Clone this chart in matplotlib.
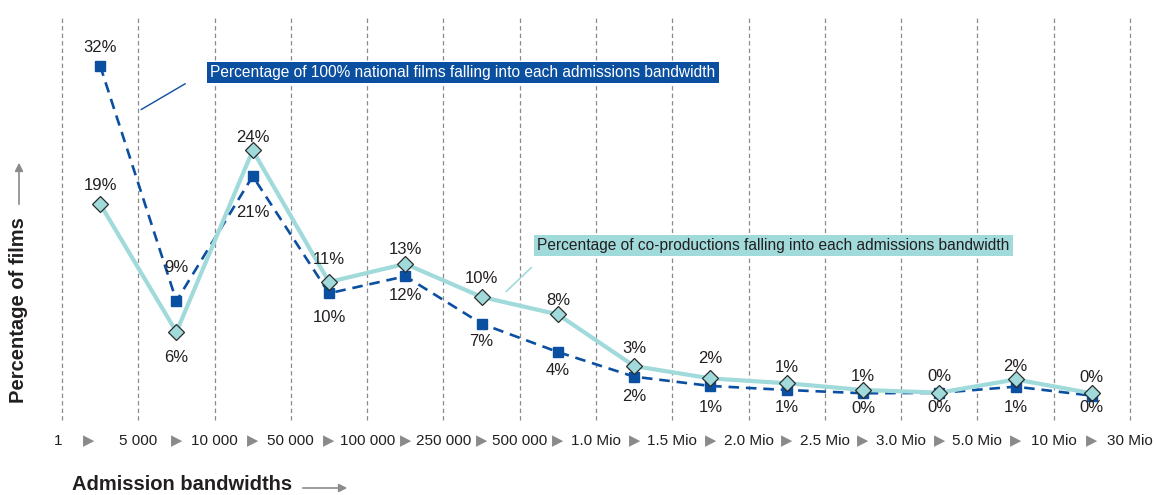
import numpy as np
import matplotlib
matplotlib.use('Agg')
import matplotlib.pyplot as plt
from matplotlib.transforms import blended_transform_factory

plt.rcParams['font.family'] = ['Liberation Sans', 'DejaVu Sans']

# admission bandwidth boundaries (tick labels) and the 14 bands between them
bounds = ['1', '5 000', '10 000', '50 000', '100 000', '250 000', '500 000',
          '1.0 Mio', '1.5 Mio', '2.0 Mio', '2.5 Mio', '3.0 Mio', '5.0 Mio',
          '10 Mio', '30 Mio']

# share of films per band, in %
national = [32.0, 9.2, 21.3, 9.95, 11.6, 7.0, 4.26, 1.87, 0.97, 0.58, 0.26, 0.3, 0.9, 0.03]
coprod = [18.6, 6.2, 23.8, 11.05, 12.8, 9.6, 7.9, 2.9, 1.7, 1.23, 0.58, 0.32, 1.6, 0.26]

# label offsets in pixels (+ above, - below the marker)
nat_off = [18, 34, -36, -24, -19, -18, -18, -20, -22, -18, -15, -15, -21, -12]
co_off = [19, -26, 13, 22, 14, 18, 14, 18, 20, 16, 13, 16, 13, 16]

DARK = '#0b4fa0'
TEAL = '#a0dadb'
TXT = '#231f20'
GREY = '#8a8a8a'

W, H = 1156, 495
fig = plt.figure(figsize=(W / 100, H / 100), dpi=100)
ax = fig.add_axes([62 / W, (H - 420) / H, (1130 - 62) / W, 405 / H])

x = np.arange(len(national))
ax.set_xlim(-0.5, len(national) - 0.5)
ax.set_ylim(-2.33, 36.92)
ax.axis('off')

# dashed separators between bands
for b in np.arange(len(bounds)) - 0.5:
    ax.axvline(b, color=GREY, lw=0.9, ls=(0, (3.5, 2.5)), zorder=0, clip_on=False)

ax.plot(x, national, color=DARK, lw=1.9, ls=(0, (4, 2.6)), marker='s',
        ms=6.8, mfc=DARK, mec=DARK, zorder=2)
ax.plot(x, coprod, color=TEAL, lw=3.0, marker='D', ms=8.3, mfc=TEAL,
        mec='#2b2b2b', mew=0.9, zorder=3)

for xi, v, o in zip(x, national, nat_off):
    ax.annotate(f'{v:.0f}%', (xi, v), xytext=(0, o), textcoords='offset pixels',
                ha='center', va='center', fontsize=12, color=TXT, zorder=4)
for xi, v, o in zip(x, coprod, co_off):
    ax.annotate(f'{v:.0f}%', (xi, v), xytext=(0, o), textcoords='offset pixels',
                ha='center', va='center', fontsize=12, color=TXT, zorder=4)

# band labels under the chart: boundaries and grey arrows between them
tr = blended_transform_factory(ax.transData, ax.transAxes)
ly = (420 - 441) / 405
for i, lab in enumerate(bounds):
    ax.text(i - 0.5, ly, lab, transform=tr, ha='right' if i == 0 else 'center',
            va='center', fontsize=11, color=TXT, clip_on=False)
for i in x:
    ax.text(i - (0.15 if i == 0 else 0), ly, '\u25b6', transform=tr, ha='center',
            va='center', fontsize=10.5, color=GREY, clip_on=False)

# axis titles with arrows
fig.text(72 / W, (H - 484) / H, 'Admission bandwidths', fontsize=14.5,
         fontweight='bold', color=TXT, ha='left', va='center')
ax.annotate('', xy=(350, H - 488), xytext=(300, H - 488), xycoords='figure pixels',
            arrowprops=dict(arrowstyle='-|>', color=GREY, lw=1.2, mutation_scale=12))
fig.text(19 / W, (H - 310) / H, 'Percentage of films', fontsize=14.5,
         fontweight='bold', color=TXT, ha='center', va='center', rotation=90)
ax.annotate('', xy=(19, H - 160), xytext=(19, H - 207), xycoords='figure pixels',
            arrowprops=dict(arrowstyle='-|>', color=GREY, lw=1.2, mutation_scale=12))

# series call-outs
fig.text(210 / W, (H - 72.5) / H,
         'Percentage of 100% national films falling into each admissions bandwidth',
         fontsize=11.2, color='white', ha='left', va='center',
         bbox=dict(boxstyle='square,pad=0.22', fc=DARK, ec='none'))
ax.annotate('', xy=(138.7, H - 111), xytext=(187.7, H - 82.3), xycoords='figure pixels',
            arrowprops=dict(arrowstyle='-', color=DARK, lw=1.0))

fig.text(537 / W, (H - 245.5) / H,
         'Percentage of co-productions falling into each admissions bandwidth',
         fontsize=11.2, color=TXT, ha='left', va='center',
         bbox=dict(boxstyle='square,pad=0.22', fc=TEAL, ec='none'))
ax.annotate('', xy=(504.3, H - 293.3), xytext=(533.3, H - 265.7), xycoords='figure pixels',
            arrowprops=dict(arrowstyle='-', color=TEAL, lw=1.2))

fig.savefig('out.png', dpi=100)
